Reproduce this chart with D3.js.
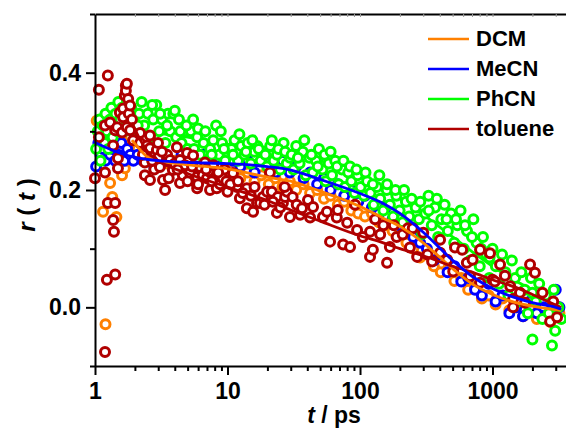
<!DOCTYPE html>
<html>
<head>
<meta charset="utf-8">
<script src="https://cdn.jsdelivr.net/npm/d3@7"></script>
<style>
  html, body { margin: 0; padding: 0; background: #fff; }
  svg { display: block; }
  text { font-family: "Liberation Sans", Arial, sans-serif; font-weight: bold; fill: #000; }
</style>
</head>
<body>
<svg id="chart" width="566" height="433"></svg>
<script>
// Series
const seriesNames = ["DCM", "MeCN", "PhCN", "toluene"];
const seriesColors = ["#ff8000", "#0000ff", "#00ff00", "#b00000"];

// Measured anisotropy r(t), time in ps
const dcmTime = [1.03,1.15,1.2,1.3,1.35,1.45,1.55,1.6,1.68,1.72,1.78,1.85,1.9,2.0,2.1,2.3,2.5,2.8,3.1,3.5,4,4.5,5.1,5.8,6.6,7.5,8.5,9.7,11,12.5,14.2,16,18,20.5,23,26,29.5,33,37.5,42,47.5,53.5,60,68,76,86,97,109,123,139,156,176,199,224,252,284,320,361,407,458,516,581,655,738,831,936,1055,1190,1340,1510,1700,1915,2160,2430,2740,3000,3200];
const dcmR = [0.318,0.163,-0.029,0.212,0.188,0.154,0.28,0.225,0.237,0.25,0.27,0.29,0.28,0.27,0.27,0.26,0.255,0.26,0.25,0.245,0.25,0.24,0.245,0.235,0.245,0.23,0.24,0.225,0.235,0.22,0.23,0.215,0.225,0.21,0.22,0.205,0.215,0.20,0.21,0.195,0.20,0.185,0.19,0.175,0.18,0.165,0.16,0.155,0.16,0.145,0.14,0.13,0.125,0.11,0.10,0.085,0.09,0.07,0.06,0.065,0.045,0.05,0.03,0.035,0.015,0.02,0.005,0.015,-0.005,0.0,-0.015,0.0,-0.02,-0.01,-0.025,-0.005,-0.01];

const mecnTime = [1.02,1.06,1.1,1.15,1.2,1.25,1.3,1.36,1.42,1.5,1.58,1.66,1.75,1.85,1.95,2.1,2.3,2.5,2.8,3.1,3.5,4,4.5,5.1,5.8,6.6,7.5,8.5,9.7,11,12.5,14.2,16,18,20.5,23,26,29.5,33,37.5,42,47.5,53.5,60,68,76,86,97,109,123,139,156,176,199,224,252,284,320,361,407,458,516,581,655,738,831,936,1055,1190,1340,1510,1700,1915,2160,2430,2740,3000,3200];
const mecnR = [0.24,0.28,0.26,0.27,0.25,0.28,0.26,0.27,0.25,0.26,0.28,0.25,0.27,0.26,0.25,0.26,0.25,0.27,0.24,0.26,0.25,0.24,0.26,0.25,0.24,0.26,0.25,0.24,0.26,0.25,0.24,0.25,0.23,0.25,0.24,0.23,0.25,0.23,0.24,0.22,0.23,0.21,0.22,0.20,0.21,0.19,0.20,0.18,0.19,0.17,0.16,0.17,0.15,0.14,0.15,0.12,0.11,0.10,0.08,0.09,0.06,0.07,0.044,0.05,0.03,0.02,0.04,0.01,0.02,-0.01,0.00,-0.015,0.01,-0.01,0.00,-0.02,0.03,0.00];

const phcnTime = [1.02,1.05,1.08,1.1,1.12,1.15,1.18,1.2,1.23,1.26,1.3,1.33,1.36,1.4,1.43,1.47,1.5,1.55,1.6,1.65,1.7,1.75,1.8,1.88,1.95,
  2.05,2.15,2.25,2.35,2.5,2.6,2.75,2.9,3.05,3.2,3.4,3.55,3.7,3.9,4.1,4.3,4.5,4.75,5.0,
  5.3,5.6,5.9,6.2,6.6,7.0,7.4,7.8,8.2,8.6,9.1,9.6,10.1,
  10.7,11.3,12,12.7,13.4,14.2,15,15.9,16.8,17.8,18.8,19.9,21,22.3,23.6,25,26.5,28,29.6,
  31.5,33,35,37,39,41.5,44,46.5,49,52,55,58,61.5,65,69,73,77,81.5,86,91,96,101,
  107,113,120,127,134,142,150,159,168,178,188,199,210,222,235,249,263,278,294,
  311,329,348,368,389,411,435,460,486,514,543,574,607,642,678,717,758,801,847,895,946,1000,
  1060,1120,1180,1250,1320,1400,1480,1560,1650,1750,1850,1950,2000,2000,2120,2250,2380,2520,2660,2810,2900,2970,3140,3300,
  2.1,2.4,2.7,3.1,3.5,4.0,4.4,4.9,5.5,6.0,6.8,7.6,8.9,9.4,
  11,12.3,13.8,15.4,17.2,19.3,21.6,24.2,27.2,30.5,34,38,43,48,54,60,67,75,84,94,
  110,125,140,160,185,215,245,285,330,380,450,530,620,700,820,950];
const phcnR = [0.27,0.30,0.32,0.25,0.29,0.31,0.28,0.33,0.30,0.27,0.32,0.34,0.29,0.31,0.33,0.30,0.35,0.32,0.34,0.30,0.33,0.35,0.31,0.34,0.32,
  0.30,0.33,0.35,0.31,0.33,0.29,0.32,0.345,0.30,0.32,0.28,0.33,0.30,0.33,0.29,0.32,0.28,0.30,0.27,
  0.30,0.27,0.29,0.26,0.28,0.25,0.27,0.285,0.31,0.26,0.28,0.25,0.27,
  0.27,0.285,0.25,0.275,0.26,0.28,0.245,0.265,0.275,0.25,0.265,0.24,0.275,0.25,0.26,0.235,0.28,0.245,0.255,
  0.235,0.275,0.245,0.265,0.225,0.255,0.23,0.25,0.27,0.235,0.215,0.245,0.225,0.25,0.21,0.235,0.205,0.23,0.215,0.195,0.225,0.205,
  0.19,0.215,0.195,0.175,0.205,0.185,0.165,0.2,0.175,0.155,0.19,0.165,0.145,0.18,0.155,0.135,0.17,0.15,0.125,
  0.16,0.19,0.14,0.17,0.12,0.15,0.175,0.13,0.16,0.11,0.14,0.165,0.10,0.13,0.08,0.15,0.11,0.07,0.12,0.09,0.05,0.10,
  0.07,0.04,0.09,0.06,0.02,0.08,0.05,0.01,0.06,0.03,-0.01,0.05,0.025,-0.055,0.01,0.04,-0.02,0.02,-0.01,-0.065,0.03,-0.04,0.0,-0.02,
  0.31,0.29,0.345,0.33,0.31,0.335,0.30,0.31,0.32,0.305,0.30,0.26,0.30,0.27,
  0.26,0.295,0.265,0.285,0.27,0.26,0.285,0.27,0.265,0.26,0.255,0.285,0.26,0.24,0.26,0.265,0.24,0.25,0.24,0.235,
  0.23,0.21,0.225,0.21,0.2,0.2,0.185,0.18,0.165,0.185,0.15,0.15,0.14,0.12,0.10,0.085];

const tolueneTime = [1.00,1.07,1.07,1.19,1.19,1.19,1.23,1.25,1.25,1.30,1.37,1.37,1.39,1.42,1.42,1.42,1.47,1.49,1.49,1.54,1.60,1.63,1.63,1.68,1.71,1.71,1.74,1.74,1.78,1.8,1.84,1.84,1.9,1.94,
  2.19,2.19,2.38,2.47,2.38,2.60,2.60,2.60,2.8,2.93,2.99,3.0,3.09,3.26,3.38,3.5,3.68,3.87,4.0,4.15,4.38,4.38,4.6,4.78,4.95,5.21,5.50,5.6,5.90,5.90,6.20,6.5,6.76,7.0,7.2,7.38,7.8,8.3,8.3,8.8,9.2,9.5,
  10.0,11.0,11.8,12.4,14.0,14.0,15.6,16.7,17.6,18.5,19.9,20.9,21.6,23.6,24.0,26.2,27.2,28.1,29.6,31.0,33.3,35.3,36.5,40.5,42.0,44.2,52.5,56.3,59.4,66.8,67.9,74.6,80.0,84.1,91.7,95.0,
  105,119,119,125,130,142,150,160,168,180,189,210,230,238,250,270,300,323,350,402,402,455,505,521,590,640,676,707,805,805,957,1000,1040,1140,1240,1360,1430,1430,1610,1760,1920,2090,2380,2720,2870,3070,
  2.3,2.7,3.2,3.6,4.2,5.0,5.4,6.0,6.9,7.6,8.5,9.8,10.5,12,13,15,16,19,22,25,27];
const tolueneR = [0.220,0.371,0.290,0.310,0.230,-0.076,0.047,0.395,0.178,0.315,0.276,0.149,0.129,0.302,0.178,0.056,0.307,0.254,0.237,0.332,0.298,0.339,0.324,0.361,0.378,0.369,0.381,0.307,0.355,0.33,0.344,0.302,0.32,0.285,
  0.297,0.280,0.247,0.276,0.225,0.293,0.271,0.217,0.235,0.268,0.280,0.255,0.239,0.217,0.200,0.26,0.251,0.234,0.245,0.273,0.251,0.212,0.225,0.242,0.263,0.229,0.259,0.215,0.222,0.203,0.239,0.225,0.247,0.220,0.232,0.200,0.242,0.203,0.225,0.21,0.220,0.235,
  0.197,0.229,0.205,0.186,0.203,0.169,0.163,0.178,0.178,0.188,0.197,0.230,0.197,0.161,0.188,0.178,0.188,0.197,0.154,0.188,0.175,0.158,0.169,0.183,0.153,0.171,0.154,0.163,0.112,0.153,0.166,0.107,0.144,0.103,0.175,0.132,
  0.120,0.129,0.086,0.098,0.15,0.124,0.14,0.076,0.103,0.14,0.120,0.124,0.135,0.102,0.135,0.086,0.127,0.090,0.078,0.093,0.115,0.081,0.061,0.102,0.098,0.076,0.053,0.081,0.098,0.042,0.092,0.047,0.044,0.073,0.054,0.036,0.014,0.000,0.025,0.008,0.073,0.059,0.025,-0.024,0.010,-0.017,
  0.26,0.25,0.265,0.22,0.235,0.215,0.24,0.21,0.235,0.215,0.23,0.215,0.21,0.215,0.195,0.19,0.205,0.175,0.18,0.17,0.205];

// Fitted decay curves, sampled on a common time grid (null = not fitted there)
const fitTime = [1, 1.5, 1.9, 2.2, 2.5, 3, 5, 10, 20, 30, 50, 100, 150, 200, 300, 500, 700, 1000, 1500, 2000, 3000, 3300];
const dcmFit = [null, null, 0.285, 0.268, 0.256, 0.25, 0.243, 0.236, 0.222, 0.215, 0.198, 0.172, 0.152, 0.138, 0.11, 0.066, 0.04, 0.022, 0.008, 0.002, -0.004, -0.005];
const mecnFit = [0.281, 0.264, 0.257, 0.254, 0.252, 0.25, 0.247, 0.245, 0.24, 0.234, 0.218, 0.194, 0.177, 0.16, 0.128, 0.08, 0.053, 0.032, 0.016, 0.008, 0.0, -0.003];
const phcnFit = [0.30, 0.305, 0.305, 0.303, 0.30, 0.297, 0.29, 0.278, 0.268, 0.262, 0.25, 0.222, 0.2, 0.185, 0.158, 0.12, 0.095, 0.07, 0.045, 0.03, 0.01, 0.006];
const tolueneFit = [null, null, 0.315, 0.285, 0.265, 0.25, 0.228, 0.205, 0.182, 0.166, 0.147, 0.122, 0.11, 0.1, 0.088, 0.07, 0.06, 0.047, 0.034, 0.022, 0.004, 0.0];

// Axis ticks
const xMajorTicks = [1, 10, 100, 1000];
const xMinorTicks = [2,3,4,5,6,7,8,9,20,30,40,50,60,70,80,90,200,300,400,500,600,700,800,900,2000,3000];
const yMajorTicks = [0.0, 0.2, 0.4];
const yMinorTicks = [-0.1, 0.1, 0.3, 0.5];

const svg = d3.select("#chart");

const x = d3.scaleLog().domain([1, 4000]).range([95, 572.3]);
const y = d3.scaleLinear().domain([-0.1, 0.5]).range([366, 14]);

const zip = (ts, rs) => ts.map((t, i) => ({ t, r: rs[i] }));
const pointSets = [zip(dcmTime, dcmR), zip(mecnTime, mecnR), zip(phcnTime, phcnR), zip(tolueneTime, tolueneR)];
const fitSets = [dcmFit, mecnFit, phcnFit, tolueneFit].map(v => zip(fitTime, v));

const line = d3.line()
  .defined(d => d.r !== null)
  .x(d => x(d.t))
  .y(d => y(d.r))
  .curve(d3.curveMonotoneX);

// PhCN fit sits underneath its own markers
svg.append("path")
  .attr("d", line(fitSets[2]))
  .attr("fill", "none")
  .attr("stroke", seriesColors[2])
  .attr("stroke-width", 2.8);

// Open-circle markers
pointSets.forEach((pts, i) => {
  svg.append("g")
    .selectAll("circle")
    .data(pts)
    .join("circle")
    .attr("cx", d => x(d.t))
    .attr("cy", d => y(d.r))
    .attr("r", 4.5)
    .attr("fill", "#fff")
    .attr("stroke", seriesColors[i])
    .attr("stroke-width", 3);
});

// Fit curves on top
[0, 3, 1].forEach(i => {
  svg.append("path")
    .attr("d", line(fitSets[i]))
    .attr("fill", "none")
    .attr("stroke", seriesColors[i])
    .attr("stroke-width", 2.8);
});

// Top frame line with small inward ticks
const topAxis = svg.append("g")
  .attr("transform", `translate(0,${y(0.5)})`)
  .call(d3.axisTop(x).tickValues(xMajorTicks.concat(xMinorTicks)).tickFormat("").tickSize(-3).tickSizeOuter(0));
topAxis.select(".domain").attr("stroke", "#000").attr("stroke-width", 2);
topAxis.selectAll(".tick line").attr("stroke", "#999").attr("stroke-width", 1);

// Bottom axis
const xAxisG = svg.append("g").attr("transform", `translate(0,${y(-0.1)})`);
xAxisG.call(d3.axisBottom(x).tickValues(xMajorTicks).tickFormat(d3.format("d")).tickSize(9).tickPadding(8).tickSizeOuter(0));
const xMinorG = svg.append("g").attr("transform", `translate(0,${y(-0.1)})`)
  .call(d3.axisBottom(x).tickValues(xMinorTicks).tickFormat("").tickSize(5).tickSizeOuter(0));
xMinorG.select(".domain").remove();

// Left axis
const yAxisG = svg.append("g").attr("transform", "translate(95,0)");
yAxisG.call(d3.axisLeft(y).tickValues(yMajorTicks).tickFormat(d3.format(".1f")).tickSize(9).tickPadding(5).tickSizeOuter(0));
const yMinorG = svg.append("g").attr("transform", "translate(95,0)")
  .call(d3.axisLeft(y).tickValues(yMinorTicks).tickFormat("").tickSize(5).tickSizeOuter(0));
yMinorG.select(".domain").remove();

[xAxisG, xMinorG, yAxisG, yMinorG].forEach(g => {
  g.select(".domain").attr("stroke", "#000").attr("stroke-width", 2);
  g.selectAll(".tick line").attr("stroke", "#000").attr("stroke-width", 2);
  g.selectAll(".tick text")
    .attr("fill", "#000")
    .style("font-family", '"Liberation Sans", Arial, sans-serif')
    .style("font-weight", "bold")
    .style("font-size", "23px");
});

// Axis titles
const xTitle = svg.append("text")
  .attr("x", 334).attr("y", 423)
  .attr("text-anchor", "middle")
  .style("font-size", "23px");
xTitle.append("tspan").style("font-style", "italic").text("t");
xTitle.append("tspan").text(" / ps");

const yTitle = svg.append("text")
  .attr("transform", "translate(35,205) rotate(-90)")
  .attr("text-anchor", "middle")
  .style("font-size", "24px");
yTitle.append("tspan").style("font-style", "italic").text("r");
yTitle.append("tspan").text(" ( ");
yTitle.append("tspan").style("font-style", "italic").text("t");
yTitle.append("tspan").text(" )");

// Legend
const legend = svg.append("g");
seriesNames.forEach((name, i) => {
  const cy = 39 + i * 30;
  legend.append("line")
    .attr("x1", 428).attr("x2", 469)
    .attr("y1", cy).attr("y2", cy)
    .attr("stroke", seriesColors[i])
    .attr("stroke-width", 2.4);
  legend.append("text")
    .attr("x", 476).attr("y", cy + 7)
    .style("font-size", "22px")
    .text(name);
});
</script>
</body>
</html>
